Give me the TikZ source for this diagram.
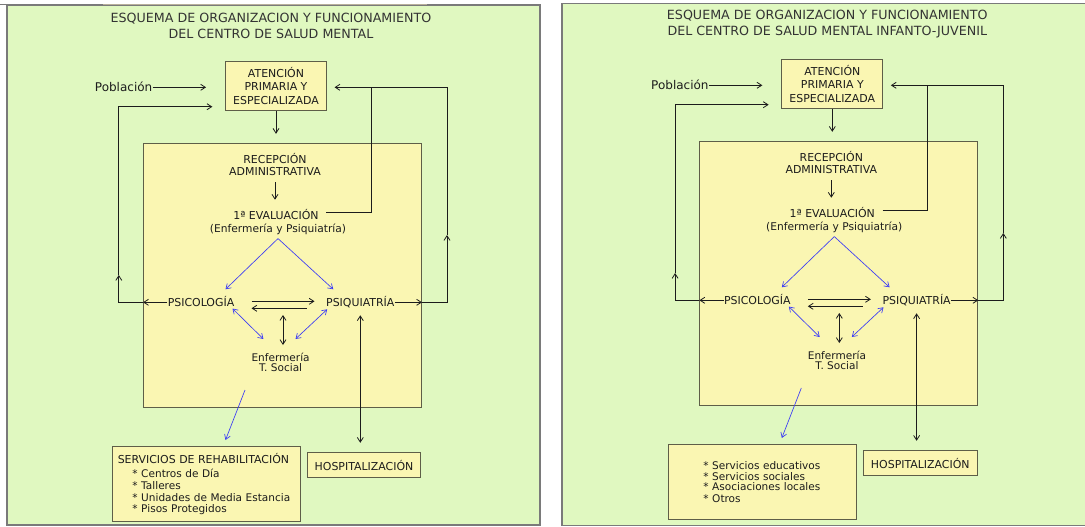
\documentclass[tikz,border=0pt]{standalone}
\usepackage{fontspec}
\setmainfont{DejaVu Sans}
\usetikzlibrary{arrows.meta}
\definecolor{pgreen}{HTML}{E0F8C0}
\definecolor{pyellow}{HTML}{FAF6B2}
\definecolor{bord}{HTML}{5E5E48}
\definecolor{ink}{HTML}{1C1C1C}
\definecolor{ttlink}{HTML}{333333}
\definecolor{blu}{HTML}{3C3CF5}
\definecolor{framec}{HTML}{7A7A7A}
\definecolor{tanline}{HTML}{B8B09A}
\def\px{*0.75pt}
\newcommand\fcap{\fontsize{8.2}{10}\selectfont}
\newcommand\fcapb{\fontsize{8.2}{8.8}\selectfont}
\newcommand\fmix{\fontsize{8}{9.6}\selectfont}
\newcommand\fenf{\fontsize{7.9}{7.3}\selectfont}
\newcommand\fpob{\fontsize{9}{11}\selectfont}
\newcommand\fttl{\fontsize{9.5}{12}\selectfont}
\newcommand\fserv{\fontsize{7.9}{8.8}\selectfont}
\newcommand\fservb{\fontsize{7.9}{7.75}\selectfont}
\tikzset{
  lbl/.style={inner sep=0pt, text=ink, font=\fcap, text height=6pt, text depth=0pt},
  mtxt/.style={inner sep=0pt, text=ink, align=center},
  ttl/.style={inner sep=0pt, text=ttlink, align=center, font=\fttl},
  box/.style={draw=bord, fill=pyellow, line width=0.75pt, inner sep=0pt, align=center, text=ink},
  ln/.style={draw=ink, line width=0.6pt},
  arr/.style={ln, -{Straight Barb[length=3.5pt,width=4.5pt]}},
  darr/.style={ln, {Straight Barb[length=3.5pt,width=4.5pt]}-{Straight Barb[length=3.5pt,width=4.5pt]}},
  barr/.style={draw=blu, line width=0.5pt, -{Straight Barb[length=3.5pt,width=4.5pt]}},
  bdarr/.style={draw=blu, line width=0.5pt, {Straight Barb[length=3.5pt,width=4.5pt]}-{Straight Barb[length=3.5pt,width=4.5pt]}},
  panel/.style={draw=framec, fill=pgreen, line width=1.1pt},
}
\newcommand\csmpanel[2]{%
  \node[box, minimum width=277.9\px, minimum height=264.4\px] (cmain) at (282.55,275.5) {};
  \node[ttl] (title) at (271,26.3) {ESQUEMA DE ORGANIZACION Y FUNCIONAMIENTO\\#1};
  \node[lbl, font=\fpob, text height=6.6pt] (pob) at (123.6,87.3) {Población};
  \node[box, font=\fcap, minimum width=100.9\px, minimum height=49.7\px] (aten) at (276,85.9) {ATENCIÓN\\PRIMARIA Y\\ESPECIALIZADA};
  \node[mtxt, font=\fcapb] (recep) at (275,164.8) {RECEPCIÓN\\ADMINISTRATIVA};
  \node[lbl] (eval1) at (276,215) {1ª EVALUACIÓN};
  \node[lbl, font=\fmix] (eval2) at (278,228.3) {(Enfermería y Psiquiatría)};
  \node[lbl] (psico) at (201,302.3) {PSICOLOGÍA};
  \node[lbl] (psiq) at (360.3,302.3) {PSIQUIATRÍA};
  \node[mtxt, font=\fenf] (enf) at (280.6,362) {Enfermería\\T. Social};
  \node[box, minimum width=188.6\px, minimum height=75\px, text width=132.75pt, align=left, font=\fserv] (serv) at (206.3,484.2) {#2};
  \node[box, minimum width=113.6\px, minimum height=24.6\px, font=\fcap] (hosp) at (364,465) {HOSPITALIZACIÓN};
  % bend points and free ends
  \coordinate (rt) at (371.2,87.3);
  \coordinate (rb) at (371.2,212.3);
  \coordinate (ob) at (447,302.3);
  \coordinate (om) at (447,235);
  \coordinate (ot) at (447,87.3);
  \coordinate (lb) at (118.8,302.3);
  \coordinate (lm) at (118.8,275);
  \coordinate (lt) at (118.8,106.7);
  \coordinate (apex) at ([yshift=-4.5pt]eval2.south);
  \coordinate (tl) at (225.5,289.3);
  \coordinate (tr) at (333.3,289.3);
  \coordinate (el) at (263.4,339);
  \coordinate (er) at (295.5,339);
  \coordinate (vt) at (283,315);
  \coordinate (vb) at (283,345);
  \coordinate (bs) at (245,390);
  \coordinate (bt) at (225.5,440);
  % black connectors
  \draw[arr, shorten >=19\px] (pob.east) -- (pob.east -| aten.west);
  \draw[arr, shorten >=9\px] (aten.south) -- (aten.south |- cmain.north);
  \draw[arr, shorten <=6\px, shorten >=11\px] (recep.south) -- (recep.south |- eval1.north);
  \draw[arr, shorten >=7.6\px] ([xshift=5.5pt]eval1.east |- rb) -- (rb) -- (rt) -- (rt -| aten.east);
  \draw[arr] (psiq.east) -- (psiq.east -| cmain.east);
  \draw[arr] (psiq.east -| cmain.east) -- (ob) -- (om);
  \draw[ln] (om) -- (ot) -- (rt);
  \draw[arr] (psico.west) -- (psico.west -| cmain.west);
  \draw[arr] (psico.west -| cmain.west) -- (lb) -- (lm);
  \draw[arr, shorten >=12.7\px] (lm) -- (lt) -- (lt -| aten.west);
  \draw[arr, shorten <=17\px, shorten >=11.4\px] ([yshift=0.75pt]psico.east) -- ([yshift=0.75pt]psiq.west);
  \draw[arr, shorten <=19.3\px, shorten >=17\px] ([yshift=-4.5pt]psiq.west) -- ([yshift=-4.5pt]psico.east);
  \draw[darr] (vt) -- (vb);
  \draw[darr, shorten <=8.7\px, shorten >=9.4\px] (psiq.south) -- (psiq.south |- hosp.north);
  % blue connectors
  \draw[barr] (apex) -- (tl);
  \draw[barr] (apex) -- (tr);
  \draw[bdarr] ([shift={(-2,2)}]psico.south east) -- (el);
  \draw[bdarr] ([shift={(1.3,2.7)}]psiq.south west) -- (er);
  \draw[barr] (bs) -- (bt);
}
\begin{document}
\begin{tikzpicture}[x=0.75pt, y=-0.75pt]
  \useasboundingbox (0,0) rectangle (1085,526);
  \clip (0,0) rectangle (1085,526);
  \fill[white] (0,0) rectangle (1085,526);
  \node[panel, minimum width=533\px, minimum height=520\px, inner sep=0pt] (leftpanel) at (273.5,265) {};
  \node[panel, minimum width=540\px, minimum height=522\px, inner sep=0pt] (rightpanel) at (832,264.5) {};
  \draw[framec, line width=1.1pt] (0,4.5) -- (103,4.5);
  \draw[tanline, line width=0.8pt] (103,4.6) -- (427,4.6);
  \begin{scope}[name prefix=L-]
    \csmpanel{DEL CENTRO DE SALUD MENTAL}{{\fcap SERVICIOS DE REHABILITACIÓN}\\[2pt]\hspace*{11pt}* Centros de Día\\\hspace*{11pt}* Talleres\\\hspace*{11pt}* Unidades de Media Estancia\\\hspace*{11pt}* Pisos Protegidos}
  \end{scope}
  \begin{scope}[shift={(556.3,-2)}, name prefix=R-]
    \csmpanel{DEL CENTRO DE SALUD MENTAL INFANTO-JUVENIL}{\fservb\hspace*{22pt}* Servicios educativos\\\hspace*{22pt}* Servicios sociales\\\hspace*{22pt}* Asociaciones locales\\\hspace*{22pt}* Otros}
  \end{scope}
\end{tikzpicture}
\end{document}
